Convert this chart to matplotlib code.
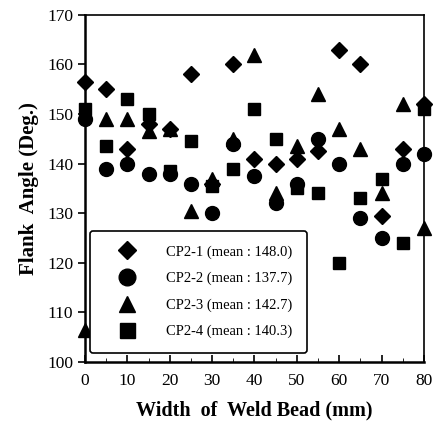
import matplotlib
import matplotlib.pyplot as plt
from matplotlib.ticker import MultipleLocator

matplotlib.use("Agg")
plt.rcParams["font.family"] = ["Liberation Serif", "DejaVu Serif"]

## Data
width = [0, 5, 10, 15, 20, 25, 30, 35, 40, 45, 50, 55, 60, 65, 70, 75, 80]
cp2_1 = [156.5, 155, 143, 148, 147, 158, 136, 160, 141, 140, 141, 142.5, 163, 160, 129.5, 143, 152]
cp2_2 = [149, 139, 140, 138, 138, 136, 130, 144, 137.5, 132, 136, 145, 140, 129, 125, 140, 142]
cp2_3 = [106.5, 149, 149, 146.5, 147, 130.5, 137, 145, 162, 134, 143.5, 154, 147, 143, 134, 152, 127]
cp2_4 = [151, 143.5, 153, 150, 138.5, 144.5, 135.5, 139, 151, 145, 135, 134, 120, 133, 137, 124, 151]

series = [
    ("CP2-1 (mean : 148.0)", cp2_1, "D", 8),
    ("CP2-2 (mean : 137.7)", cp2_2, "o", 10),
    ("CP2-3 (mean : 142.7)", cp2_3, "^", 10),
    ("CP2-4 (mean : 140.3)", cp2_4, "s", 9),
]

fig = plt.figure(figsize=(4.38, 4.25), dpi=100)
ax = fig.add_axes([0.194, 0.148, 0.774, 0.817])

for label, vals, mk, ms in series:
    ax.plot(width, vals, linestyle="none", marker=mk, markersize=ms,
            color="black", label=label, clip_on=False, zorder=3)

ax.set_xlim(0, 80)
ax.set_ylim(100, 170)
ax.xaxis.set_major_locator(MultipleLocator(10))
ax.xaxis.set_minor_locator(MultipleLocator(5))
ax.yaxis.set_major_locator(MultipleLocator(10))
ax.tick_params(axis="x", direction="in", length=5, width=1.2, labelsize=12.5, pad=8)
ax.tick_params(axis="x", which="minor", direction="in", length=3)
ax.tick_params(axis="y", direction="out", length=5, width=1.2, labelsize=12.5)
for s in ["left", "bottom"]:
    ax.spines[s].set_linewidth(1.8)
for s in ["top", "right"]:
    ax.spines[s].set_linewidth(1.2)

ax.set_xlabel("Width  of  Weld Bead (mm)", fontsize=14.5, fontweight="bold", labelpad=8)
ax.set_ylabel("Flank  Angle (Deg.)", fontsize=15, fontweight="bold", labelpad=6)

leg = ax.legend(loc="lower left", bbox_to_anchor=(0.015, 0.026), fontsize=10.5,
                frameon=True, fancybox=True, edgecolor="black", framealpha=1,
                borderpad=1.0, labelspacing=0.9, handletextpad=1.2,
                handlelength=3.0, markerscale=1.2, borderaxespad=0)
leg.get_frame().set_linewidth(1.2)

plt.savefig("out.png", dpi=100)
